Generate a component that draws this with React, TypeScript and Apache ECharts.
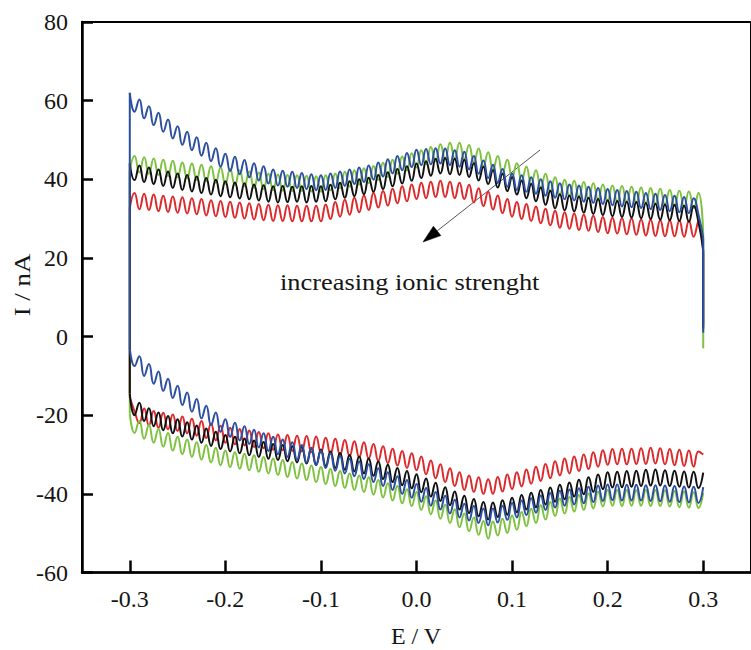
import React, { useEffect, useRef } from "react";
import * as echarts from "echarts";

// Potential sweep grid (V): -0.300 ... 0.300 in 5 mV steps (121 samples)
const E_GRID: number[] = Array.from({ length: 121 }, (_, i) => Math.round((-0.3 + 0.005 * i) * 1000) / 1000);

const X_TICKS = [-0.3, -0.2, -0.1, 0.0, 0.1, 0.2, 0.3];
const X_TICK_LABELS = ["-0.3", "-0.2", "-0.1", "0.0", "0.1", "0.2", "0.3"];
const Y_TICKS = [-60, -40, -20, 0, 20, 40, 60, 80];
const Y_TICK_LABELS = ["-60", "-40", "-20", "0", "20", "40", "60", "80"];

// Anodic (upper, forward) branches, nA, sampled on E_GRID
const BLUE_UPPER = [62,57.2,60.3,55.5,58.6,53.8,56.9,52.1,55.2,50.4,
53.5,48.8,52.1,47.4,50.7,46,49.3,44.6,47.9,43.2,
46.5,42.1,45.7,41.3,44.9,40.5,44.1,39.7,43.3,38.9,
42.5,38.4,42.2,38.1,41.9,37.8,41.6,37.5,41.3,37.2,
41,37.3,41.5,37.8,42,38.3,42.5,38.8,43,39.3,
43.5,39.9,44.3,40.7,45.1,41.5,45.9,42.3,46.7,43.1,
47.5,43.6,47.7,43.8,47.9,44,47.8,43.6,47.4,43.2,
47,42.5,45.9,41.4,44.8,40.3,43.7,39.2,42.6,38.1,
41.5,37.3,41,36.8,40.5,36.3,40,35.8,39.5,35.3,
39,34.9,38.7,34.6,38.4,34.3,38.1,34,37.8,33.7,
37.5,33.4,37.3,33.1,37,32.9,36.8,32.7,36.5,32.4,
36.3,32.2,36,31.9,35.8,31.6,35.5,31.4,35.2,31.1,
25];
const GREEN_UPPER = [42,45.9,41.7,45.6,41.4,45.3,41.1,45,40.8,44.7,
40.5,44.3,40.2,44,39.8,43.7,39.5,43.3,39.1,43,
38.8,42.6,38.5,42.3,38.2,42,37.8,41.7,37.5,41.4,
37.2,41.2,37.1,41.1,37,41,37,40.9,36.9,40.8,
36.8,41,37.2,41.5,37.7,41.9,38.1,42.3,38.6,42.8,
39,43.4,39.8,44.2,40.6,45,41.4,45.8,42.2,46.6,
43,47.4,43.8,48.2,44.6,48.9,45.1,49.3,45.3,49.3,
45.2,48.7,44.3,47.8,43.3,46.9,42.4,45.9,41.4,45,
40.5,44.1,39.6,43.2,38.7,42.3,37.8,41.4,36.9,40.5,
36,39.9,35.7,39.6,35.4,39.3,35.1,39,34.8,38.7,
34.5,38.4,34.3,38.3,34.2,38.1,34,37.9,33.9,37.8,
33.7,37.6,33.5,37.3,33.2,37.1,33,36.9,32.7,36.6,
26];
const BLACK_UPPER = [44,39.8,43.5,39.3,43,38.8,42.5,38.3,42,37.8,
41.5,37.3,41.1,36.9,40.7,36.5,40.3,36.1,39.9,35.7,
39.5,35.4,39.2,35.1,39,34.9,38.7,34.6,38.5,34.3,
38.2,34.1,38.3,34.2,38.1,34.3,38.2,34.1,38.3,34.3,
38.2,34.4,38.6,34.9,39.1,35.3,39.5,35.7,40,36.2,
40.4,36.8,41.1,37.5,41.8,38.2,42.6,38.9,43.3,39.6,
44,40.3,44.6,40.9,45.2,41.5,45.4,41.3,45.2,41.1,
45,40.6,44.1,39.7,43.2,38.8,42.3,37.9,41.4,37,
40.5,36.1,39.6,35.2,38.8,34.4,37.9,33.5,37.1,32.6,
36.2,32.1,35.9,31.8,35.6,31.5,35.3,31.2,35,30.9,
34.7,30.6,34.5,30.4,34.3,30.3,34.2,30.1,34,29.9,
33.8,29.7,33.6,29.6,33.5,29.4,33.3,29.2,33.2,29.1,
22];
const RED_UPPER = [32.6,36.5,32.4,36.3,32.2,36.1,31.9,35.8,31.7,35.6,
31.5,35.4,31.3,35.2,31.1,35,30.8,34.7,30.6,34.5,
30.4,34.3,30.2,34.1,30,33.9,29.8,33.7,29.6,33.5,
29.4,33.4,29.4,33.4,29.3,33.3,29.3,33.3,29.3,33.3,
29.3,33.6,29.9,34.2,30.5,34.8,31,35.3,31.6,35.9,
32.2,36.5,32.8,37,33.3,37.6,33.9,38.2,34.4,38.7,
35,39.1,35.2,39.4,35.5,39.6,35.5,39.4,35.2,39.1,
35,38.6,34.1,37.7,33.2,36.8,32.3,35.9,31.4,35,
30.5,34.2,29.9,33.7,29.4,33.1,28.8,32.5,28.3,32,
27.7,31.6,27.4,31.3,27.1,31,26.9,30.7,26.6,30.4,
26.3,30.2,26.2,30.1,26,30,25.9,29.8,25.7,29.7,
25.6,29.6,25.5,29.5,25.5,29.5,25.4,29.4,25.4,29.3,
21];

// Cathodic (lower, reverse) branches, nA, sampled on E_GRID (ascending E)
const BLUE_LOWER = [-3,-7.5,-5,-10,-7,-12,-8.9,-13.8,-10.7,-15.6,
-12.5,-17.4,-14.2,-19.1,-15.9,-20.8,-17.6,-22.5,-19.3,-24.2,
-21,-25.5,-21.9,-26.4,-22.8,-27.3,-23.7,-28.2,-24.6,-29.1,
-25.5,-29.9,-26.2,-30.6,-26.9,-31.3,-27.6,-32,-28.3,-32.7,
-29,-33.4,-29.7,-34.1,-30.4,-34.8,-31.1,-35.5,-31.8,-36.2,
-32.5,-37,-33.5,-38,-34.5,-39,-35.5,-40,-36.5,-41,
-37.5,-42,-38.5,-43,-39.5,-44,-40.5,-45,-41.5,-46,
-42.5,-46.8,-43.1,-47.4,-43.7,-48,-43.7,-47.3,-43,-46.6,
-42.3,-46,-41.7,-45.4,-41.1,-44.8,-40.4,-44.1,-39.8,-43.5,
-39.2,-43,-38.9,-42.7,-38.6,-42.4,-38.2,-42.1,-37.9,-41.8,
-37.6,-41.6,-37.6,-41.7,-37.7,-41.7,-37.7,-41.7,-37.8,-41.8,
-37.8,-41.9,-37.9,-42,-38,-42.1,-38.1,-42.2,-38.2,-42.3,
-38.3];
const GREEN_LOWER = [-19.5,-24.5,-21.5,-26,-22.5,-27,-23.5,-28,-24.5,-29,
-25.5,-29.9,-26.2,-30.6,-26.9,-31.3,-27.6,-32,-28.3,-32.7,
-29,-33.2,-29.4,-33.6,-29.8,-34,-30.2,-34.4,-30.6,-34.8,
-31,-35.2,-31.4,-35.7,-31.9,-36.1,-32.3,-36.5,-32.8,-37,
-33.2,-37.5,-33.7,-38,-34.2,-38.5,-34.8,-39,-35.3,-39.5,
-35.8,-40.2,-36.5,-40.9,-37.3,-41.7,-38,-42.4,-38.8,-43.1,
-39.5,-44.1,-40.6,-45.2,-41.7,-46.3,-42.8,-47.4,-43.9,-48.5,
-45,-49.5,-46,-50.4,-46.9,-51.4,-47,-50.6,-46.3,-49.9,
-45.5,-49.1,-44.6,-48.2,-43.8,-47.4,-42.9,-46.5,-42.1,-45.6,
-41.2,-45,-40.8,-44.5,-40.3,-44.1,-39.9,-43.7,-39.4,-43.2,
-39,-43,-39,-43.1,-39,-43,-39.1,-43,-39,-43.1,
-39,-43.1,-39.1,-43.2,-39.3,-43.4,-39.4,-43.5,-39.6,-43.6,
-39.7];
const BLACK_LOWER = [-14.5,-20,-16.8,-21.5,-18.2,-22.8,-19.3,-23.8,-20.2,-24.6,
-21,-25.4,-21.8,-26.2,-22.6,-27,-23.4,-27.8,-24.2,-28.6,
-25,-29.2,-25.5,-29.7,-25.9,-30.2,-26.4,-30.6,-26.8,-31.1,
-27.3,-31.4,-27.6,-31.7,-27.9,-32,-28.1,-32.3,-28.4,-32.6,
-28.7,-32.9,-29.2,-33.4,-29.6,-33.9,-30.1,-34.3,-30.5,-34.8,
-31,-35.4,-31.8,-36.2,-32.6,-37,-33.4,-37.8,-34.2,-38.6,
-35,-39.6,-36.1,-40.7,-37.2,-41.8,-38.3,-42.9,-39.4,-44,
-40.5,-44.9,-41.3,-45.7,-42.1,-46.5,-42.2,-45.9,-41.6,-45.3,
-41,-44.7,-40.3,-44,-39.7,-43.4,-39,-42.7,-38.4,-42,
-37.7,-41.4,-37.1,-40.7,-36.4,-40.1,-35.8,-39.5,-35.1,-38.8,
-34.5,-38.4,-34.4,-38.3,-34.2,-38.2,-34.1,-38,-33.9,-37.9,
-33.8,-37.9,-34,-38,-34.1,-38.2,-34.3,-38.4,-34.4,-38.5,
-34.6];
const RED_LOWER = [-15.5,-19,-22,-18.3,-22.6,-18.9,-23.2,-19.4,-23.6,-19.8,
-24,-20.3,-24.6,-20.9,-25.2,-21.5,-25.8,-22.1,-26.4,-22.7,
-27,-23.2,-27.4,-23.5,-27.7,-23.9,-28.1,-24.3,-28.4,-24.6,
-28.8,-24.9,-28.9,-25,-29.1,-25.2,-29.2,-25.3,-29.4,-25.4,
-29.5,-25.7,-29.8,-26,-30.1,-26.3,-30.4,-26.6,-30.7,-26.9,
-31,-27.3,-31.6,-27.9,-32.2,-28.5,-32.8,-29.1,-33.4,-29.7,
-34,-30.5,-35,-31.5,-36,-32.5,-37,-33.5,-38,-34.5,
-39,-35.3,-39.5,-35.8,-40,-36.3,-40,-35.7,-39.4,-35.1,
-38.8,-34.5,-38.1,-33.8,-37.4,-33.1,-36.7,-32.4,-36,-31.7,
-35.3,-31,-34.8,-30.5,-34.2,-30,-33.7,-29.4,-33.1,-28.9,
-32.6,-28.6,-32.5,-28.5,-32.5,-28.5,-32.4,-28.4,-32.4,-28.3,
-32.3,-28.4,-32.5,-28.6,-32.7,-28.8,-32.9,-29,-33.1,-29.2,
-30];

// Current at the end of the scan (E = 0.3 V), nA
const BLUE_END = 1;
const GREEN_END = -3;
const BLACK_END = 2;
const RED_END = 3;

const FONT = "Liberation Serif";
const TEXT_COLOR = "#151515";
const LABEL_SIZE = 24;

const CURVES = [
  { color: "#dd2a2c", upper: RED_UPPER, lower: RED_LOWER, end: RED_END },
  { color: "#7fc241", upper: GREEN_UPPER, lower: GREEN_LOWER, end: GREEN_END },
  { color: "#111111", upper: BLACK_UPPER, lower: BLACK_LOWER, end: BLACK_END },
  { color: "#2d4fa0", upper: BLUE_UPPER, lower: BLUE_LOWER, end: BLUE_END },
];

function buildSeries() {
  const out: any[] = [];
  const last = E_GRID.length - 1;
  CURVES.forEach((c) => {
    const common = {
      type: "line",
      symbol: "none",
      showSymbol: false,
      silent: true,
      lineStyle: { color: c.color, width: 2 },
      itemStyle: { color: c.color },
    };
    out.push({ ...common, smooth: 0.5, data: c.lower.map((v, i) => [E_GRID[i], v]) });
    out.push({ ...common, smooth: false, data: [[E_GRID[0], c.lower[0]], [E_GRID[0], c.upper[0]]] });
    out.push({ ...common, smooth: 0.5, data: c.upper.map((v, i) => [E_GRID[i], v]) });
    out.push({ ...common, smooth: false, data: [[E_GRID[last], c.upper[last]], [E_GRID[last], c.end]] });
  });
  return out;
}

function txt(id: string, text: string, x: number, y: number, align: string, vAlign: string, extra: any = {}) {
  return {
    id,
    type: "text",
    x,
    y,
    silent: true,
    ...extra,
    style: { text, fontFamily: FONT, fontSize: LABEL_SIZE, fill: TEXT_COLOR, align, verticalAlign: vAlign },
  };
}

export default function App() {
  const ref = useRef<HTMLDivElement>(null);
  useEffect(() => {
    if (!ref.current) return;
    const chart = echarts.init(ref.current, null, { renderer: "svg" });
    const tip = [423, 242];
    const base = [437.2, 230.9];
    chart.setOption({
      animation: false,
      backgroundColor: "#ffffff",
      textStyle: { fontFamily: FONT },
      grid: {
        left: 82,
        top: 22,
        width: 681,
        height: 550.5,
        show: true,
        borderColor: "#000",
        borderWidth: 2,
        backgroundColor: "transparent",
        containLabel: false,
      },
      xAxis: {
        type: "value",
        min: -0.35,
        max: 0.35,
        splitLine: { show: false },
        axisLine: { show: true, onZero: false, lineStyle: { color: "#000", width: 2.5 } },
        axisTick: {
          show: true,
          inside: true,
          length: 12,
          customValues: X_TICKS,
          lineStyle: { color: "#000", width: 2.5 },
        },
        axisLabel: { show: false },
      },
      yAxis: {
        type: "value",
        min: -60,
        max: 80,
        interval: 20,
        splitLine: { show: false },
        axisLine: { show: true, onZero: false, lineStyle: { color: "#000", width: 2.5 } },
        axisTick: { show: true, inside: true, length: 11, lineStyle: { color: "#000", width: 2.5 } },
        axisLabel: { show: false },
      },
      series: buildSeries(),
    });

    // Tick labels placed at the axes' own tick positions
    const gridRect = { left: 82, bottom: 22 + 550.5 };
    const labels: any[] = [];
    X_TICKS.forEach((v, i) => {
      const px = chart.convertToPixel({ xAxisIndex: 0 }, v) as number;
      labels.push(txt("xl" + i, X_TICK_LABELS[i], px, gridRect.bottom + 26, "center", "middle"));
    });
    Y_TICKS.forEach((v, i) => {
      const py = chart.convertToPixel({ yAxisIndex: 0 }, v) as number;
      labels.push(txt("yl" + i, Y_TICK_LABELS[i], gridRect.left - 14, py, "right", "middle"));
    });

    chart.setOption({
      graphic: [
        ...labels,
        txt("xname", "E / V", 416, 636, "center", "middle"),
        txt("yname", "I / nA", 22, 285, "center", "middle", { rotation: Math.PI / 2, scaleX: 1.12 }),
        txt("note", "increasing ionic strenght", 280, 282, "left", "middle", { scaleX: 1.1 }),
        {
          id: "arrowLine",
          type: "line",
          shape: { x1: 540, y1: 150, x2: base[0], y2: base[1] },
          style: { stroke: "#555", lineWidth: 1 },
        },
        {
          id: "arrowHead",
          type: "polygon",
          shape: { points: [tip, [440.9, 235.6], [433.4, 226.2]] },
          style: { fill: "#000", stroke: "#000", lineWidth: 0.5 },
        },
      ],
    });
    return () => chart.dispose();
  }, []);
  return <div ref={ref} style={{ position: "absolute", left: 0, top: 0, width: 751, height: 650 }} />;
}
